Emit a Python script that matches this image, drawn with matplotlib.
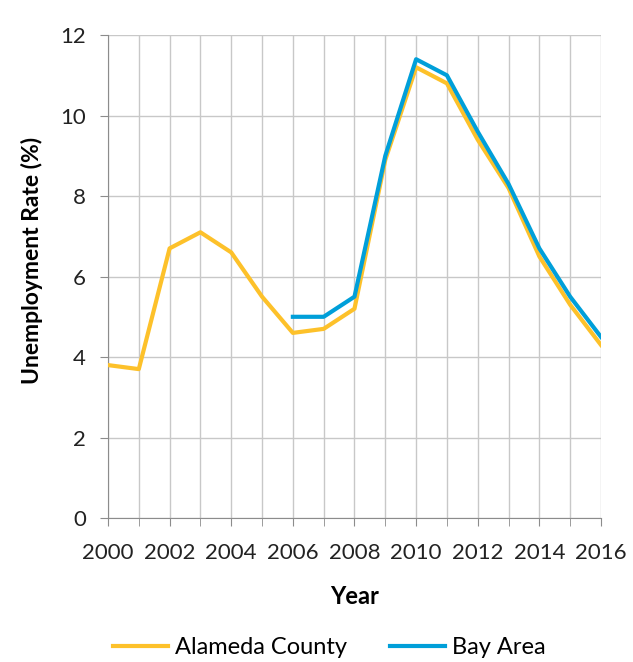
import matplotlib.pyplot as plt

plt.rcParams['font.family'] = ['Lato', 'DejaVu Sans']

years = list(range(2000, 2017))
alameda = [3.8, 3.7, 6.7, 7.1, 6.6, 5.5, 4.6, 4.7, 5.2, 8.9, 11.2, 10.8, 9.4, 8.2, 6.5, 5.3, 4.3]
bay_years = list(range(2006, 2017))
bay_area = [5.0, 5.0, 5.5, 9.0, 11.4, 11.0, 9.6, 8.3, 6.7, 5.5, 4.5]

fig = plt.figure(figsize=(6.33, 6.62), dpi=100)
ax = fig.add_axes([0.1706, 0.2175, 0.7788, 0.7295])

ax.plot(years, alameda, color='#FDC12A', lw=3.0, solid_joinstyle='round', label='Alameda County', zorder=3)
ax.plot(bay_years, bay_area, color='#009FD9', lw=3.0, solid_joinstyle='round', label='Bay Area', zorder=4)

ax.set_xlim(2000, 2016)
ax.set_ylim(0, 12)
ax.set_xticks(range(2000, 2017, 2))
ax.set_xticks(range(2000, 2017), minor=True)
ax.set_yticks(range(0, 13, 2))
ax.grid(True, which='both', axis='x', color='#C8C8C8', lw=1)
ax.grid(True, which='major', axis='y', color='#C8C8C8', lw=1)
ax.set_axisbelow(True)

for s in ['top', 'right']:
    ax.spines[s].set_visible(False)
ax.spines['left'].set_color('#8C8C8C')
ax.spines['bottom'].set_color('#8C8C8C')
ax.tick_params(axis='both', which='both', colors='#8C8C8C', labelcolor='#222222', labelsize=16)
ax.tick_params(axis='x', which='both', length=6, pad=12)
ax.tick_params(axis='y', length=6, pad=10)

ax.set_xlabel('Year', fontsize=17, fontweight='bold')
ax.set_ylabel('Unemployment Rate (%)', fontsize=16.5, fontweight='bold')
ax.xaxis.set_label_coords(0.5, -0.138)
ax.yaxis.set_label_coords(-0.132, 0.534)

fig.legend(loc='center', bbox_to_anchor=(0.52, 0.022), ncol=2, frameon=False,
           fontsize=17, handlelength=2.33, columnspacing=1.8, handletextpad=0.3)

fig.savefig('out.png', dpi=100)
